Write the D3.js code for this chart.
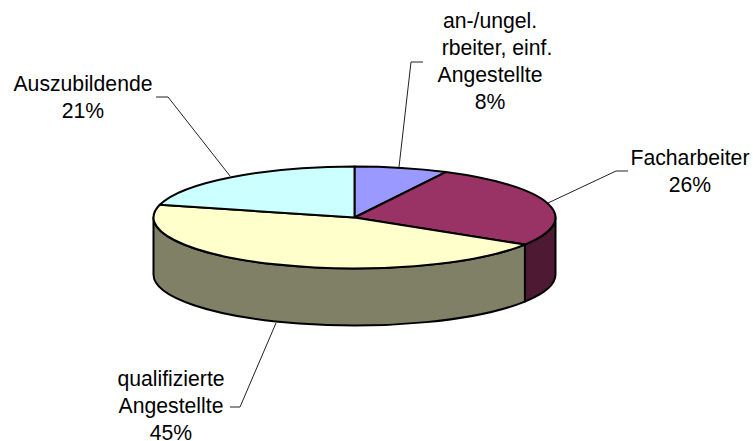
<!DOCTYPE html>
<html>
<head>
<meta charset="utf-8">
<script src="https://cdn.jsdelivr.net/npm/d3@7"></script>
<style>
  html, body { margin: 0; padding: 0; background: #fff; }
  svg { display: block; }
  text { font-family: "Liberation Sans", Arial, sans-serif; font-size: 21.2px; fill: #000; text-anchor: middle; }
  .slice, .wall { stroke: #000; stroke-width: 2; stroke-linejoin: round; vector-effect: non-scaling-stroke; }
  .leader { fill: none; stroke: #222; stroke-width: 1; }
</style>
</head>
<body>
<svg id="chart"></svg>
<script>
var svgWidth = 753;
var svgHeight = 441;

// values, labels show them rounded
var categories = ["an-/ungel. Arbeiter", "Facharbeiter", "qualifizierte Angestellte", "Auszubildende"];
var shares = [7.5, 26.4, 45.1, 21];
var topColors = ["#9999ff", "#993366", "#ffffcc", "#ccffff"];
var sideColors = ["#4d1933", "#4d1933", "#808066", "#668080"];

// text lines of each label, the last line (percent) gets added from shares
var labelLines = [
  ["an-/ungel.", "rbeiter, einf.", "Angestellte"],
  ["Facharbeiter"],
  ["qualifizierte", "Angestellte"],
  ["Auszubildende"]
];
var labelLineX = [[490, 497, 490, 490], [690, 690], [171, 171, 171], [83, 83]];
var labelY = [28, 165, 386, 91];

// leader lines: start on the pie edge, elbow, end next to the label
var leaders = [
  [[399, 167], [411, 62], [423, 62]],
  [[548, 203], [616, 171], [628, 171]],
  [[276, 323], [240, 407], [230, 407]],
  [[230, 176], [168, 97], [156, 97]]
];

var cx = 354.5, cy = 217.5;
var rx = 201, ry = 51;
var depth = 57;

var svg = d3.select("#chart")
  .attr("width", svgWidth)
  .attr("height", svgHeight);

var pie = d3.pie().sort(null).value(d => d);
var arcs = pie(shares);

var arc = d3.arc().innerRadius(0).outerRadius(rx);

// point on the top ellipse, angle clockwise from 12 o'clock
function rimPoint(a, dy) {
  return [cx + rx * Math.sin(a), cy - ry * Math.cos(a) + dy];
}

// side wall between two angles, only the front half is visible
function wallPath(a0, a1) {
  var p0 = rimPoint(a0, 0), p1 = rimPoint(a1, 0);
  var q1 = rimPoint(a1, depth), q0 = rimPoint(a0, depth);
  return `M${p0}A${rx},${ry} 0 0 1 ${p1}L${q1}A${rx},${ry} 0 0 0 ${q0}Z`;
}

var frontStart = Math.PI / 2, frontEnd = Math.PI * 1.5;

svg.append("g").selectAll("path")
  .data(arcs.filter(d => d.endAngle > frontStart && d.startAngle < frontEnd))
  .enter()
  .append("path")
  .attr("class", "wall")
  .attr("fill", d => sideColors[d.index])
  .attr("d", d => wallPath(Math.max(d.startAngle, frontStart), Math.min(d.endAngle, frontEnd)));

svg.append("g")
  .attr("transform", `translate(${cx},${cy}) scale(1,${ry / rx})`)
  .selectAll("path")
  .data(arcs)
  .enter()
  .append("path")
  .attr("class", "slice")
  .attr("fill", d => topColors[d.index])
  .attr("d", arc);

svg.append("g").selectAll("path")
  .data(leaders)
  .enter()
  .append("path")
  .attr("class", "leader")
  .attr("d", d3.line());

var labels = svg.append("g").selectAll("text")
  .data(shares)
  .enter()
  .append("text")
  .attr("y", (d, i) => labelY[i]);

labels.selectAll("tspan")
  .data((d, i) => labelLines[i].concat([Math.round(d) + "%"]).map((t, j) => ({t: t, x: labelLineX[i][j]})))
  .enter()
  .append("tspan")
  .attr("x", d => d.x)
  .attr("dy", (d, j) => j ? 27 : 0)
  .text(d => d.t);
</script>
</body>
</html>
